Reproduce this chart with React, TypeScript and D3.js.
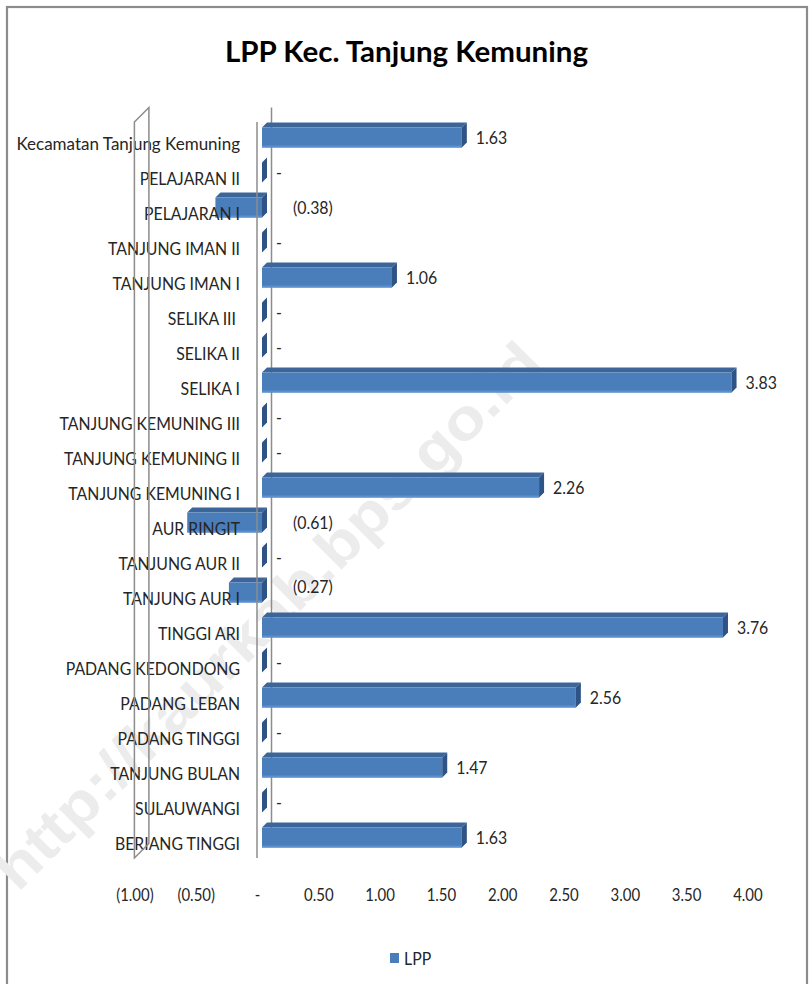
import React from "react";
import * as d3 from "d3";

const categories = [
  "Kecamatan Tanjung Kemuning",
  "PELAJARAN II",
  "PELAJARAN I",
  "TANJUNG IMAN II",
  "TANJUNG IMAN I",
  "SELIKA III ",
  "SELIKA II",
  "SELIKA I",
  "TANJUNG KEMUNING III",
  "TANJUNG KEMUNING II",
  "TANJUNG KEMUNING I",
  "AUR RINGIT",
  "TANJUNG AUR II",
  "TANJUNG AUR I",
  "TINGGI ARI",
  "PADANG KEDONDONG",
  "PADANG LEBAN",
  "PADANG TINGGI",
  "TANJUNG BULAN",
  "SULAUWANGI",
  "BERIANG TINGGI",
];
const lppValues = [
  1.63, 0, -0.38, 0, 1.06, 0, 0, 3.83, 0, 0, 2.26, -0.61, 0, -0.27, 3.76, 0,
  2.56, 0, 1.47, 0, 1.63,
];
const tickValues = [-1, -0.5, 0, 0.5, 1, 1.5, 2, 2.5, 3, 3.5, 4];
const seriesName = "LPP";
const title = "LPP Kec. Tanjung Kemuning";
const watermark = "http://kaurkab.bps.go.id";

const fmt = (v: number) => {
  if (Math.abs(v) < 1e-9) return "-";
  const s = d3.format(".2f")(Math.abs(v));
  return v < 0 ? `(${s})` : s;
};

const FONT = "Lato, 'Noto Sans', sans-serif";
const TXT = "#262626";
const GRAY = "#8c8c8c";

function SText(props: {
  x: number;
  y: number;
  sx?: number;
  anchor?: string;
  size: number;
  weight?: string | number;
  fill?: string;
  children: React.ReactNode;
}) {
  const { x, y, sx = 0.88, anchor = "start", size, weight = 400, fill = TXT } = props;
  return (
    <text
      transform={`translate(${x},${y}) scale(${sx},1)`}
      textAnchor={anchor}
      dominantBaseline="central"
      fontFamily={FONT}
      fontSize={size}
      fontWeight={weight}
      fill={fill}
      xmlSpace="preserve"
      style={{ whiteSpace: "pre" }}
    >
      {props.children}
    </text>
  );
}

export default function App() {
  const W = 809;
  const H = 984;
  // front plane projection
  const x = d3.scaleLinear().domain([-1, 4]).range([134.4, 747.4]);
  const y = d3.scaleBand<string>().domain(categories).range([125.5, 860.5]);
  const plotTop = 122;
  const plotBottom = 858;
  const DEPTH = 14.5;
  const D1 = 5;
  const D2 = 10;
  const barH = 20;

  const front = "#4a7ebb";
  const topC = "#3c669a";
  const side = "#2f5384";

  const bars = categories.map((c, i) => {
    const v = lppValues[i];
    const yc = (y(c) as number) + y.bandwidth() / 2;
    const x0 = x(Math.min(v, 0)) + D1;
    const x1 = x(Math.max(v, 0)) + D1;
    const yt = yc - D1 - 0.5 - barH / 2;
    const yb = yt + barH;
    const dd = D2 - D1;
    const topPts = `${x0},${yt} ${x0 + dd},${yt - dd} ${x1 + dd},${yt - dd} ${x1},${yt}`;
    const sidePts = `${x1},${yt} ${x1 + dd},${yt - dd} ${x1 + dd},${yb - dd} ${x1},${yb}`;
    return (
      <g key={c}>
        {x1 - x0 > 0.1 && (
          <>
            <polygon points={topPts} fill={topC} />
            <rect x={x0} y={yt} width={x1 - x0} height={barH} fill={front} />
            <rect x={x0} y={yb - 2} width={x1 - x0} height={2} fill="#5b8fcf" />
          </>
        )}
        <polygon points={sidePts} fill={side} />
      </g>
    );
  });

  const dataLabels = categories.map((c, i) => {
    const v = lppValues[i];
    const yc = (y(c) as number) + y.bandwidth() / 2;
    const x1 = x(Math.max(v, 0)) + D2;
    const labelX = v < 0 ? x(0) + D2 + 26 : x1 + 9;
    const labelY = v < 0 && i === 13 ? yc - 12 : yc - 5.5;
    return (
      <SText key={c} x={labelX} y={labelY} size={18}>
        {fmt(v)}
      </SText>
    );
  });

  const xl = x(-1);
  const x0f = x(0);

  return (
    <svg
      width={W}
      height={H}
      style={{ position: "absolute", left: 0, top: 0, background: "#fff" }}
    >
      <rect x={0} y={0} width={W} height={H} fill="#fff" />
      <rect x={7} y={7} width={800} height={1100} fill="none" stroke={GRAY} strokeWidth={2.2} />

      {/* watermark */}
      <text
        transform={`translate(18,893) rotate(-45)`}
        fontFamily="'Liberation Sans', Arial, sans-serif"
        fontWeight={700}
        fontSize={58}
        fill="#ececec"
        textLength={745}
        lengthAdjust="spacingAndGlyphs"
      >
        {watermark}
      </text>

      {/* title */}
      <text
        x={406.5}
        y={62}
        textAnchor="middle"
        fontFamily={FONT}
        fontWeight={700}
        fontSize={29}
        fill="#000"
        textLength={363}
        lengthAdjust="spacingAndGlyphs"
      >
        {title}
      </text>

      {/* zero plane back line */}
      <line x1={x0f + DEPTH} x2={x0f + DEPTH} y1={plotTop - DEPTH} y2={plotBottom - DEPTH} stroke={GRAY} strokeWidth={1.5} />

      {bars}

      {/* category labels */}
      {categories.map((c) => (
        <SText
          key={c}
          x={240}
          y={(y(c) as number) + y.bandwidth() / 2}
          size={18}
          anchor="end"
          sx={/[a-z]/.test(c) ? 0.945 : 0.88}
        >
          {c}
        </SText>
      ))}

      {dataLabels}

      {/* left wall */}
      <polygon
        points={`${xl},${plotTop} ${xl + DEPTH},${plotTop - DEPTH} ${xl + DEPTH},${plotBottom - DEPTH} ${xl},${plotBottom}`}
        fill="none"
        stroke={GRAY}
        strokeWidth={1.5}
      />
      {/* zero plane front line */}
      <line x1={x0f} x2={x0f} y1={plotTop} y2={plotBottom} stroke={GRAY} strokeWidth={1.5} />

      {/* x tick labels */}
      {tickValues.map((t) => (
        <SText key={t} x={x(t) + 0.5} y={894} size={17} anchor="middle">
          {fmt(t)}
        </SText>
      ))}

      {/* legend */}
      <rect x={390} y={953} width={9} height={10} fill={front} />
      <SText x={404} y={958} size={18}>
        {seriesName}
      </SText>
    </svg>
  );
}
